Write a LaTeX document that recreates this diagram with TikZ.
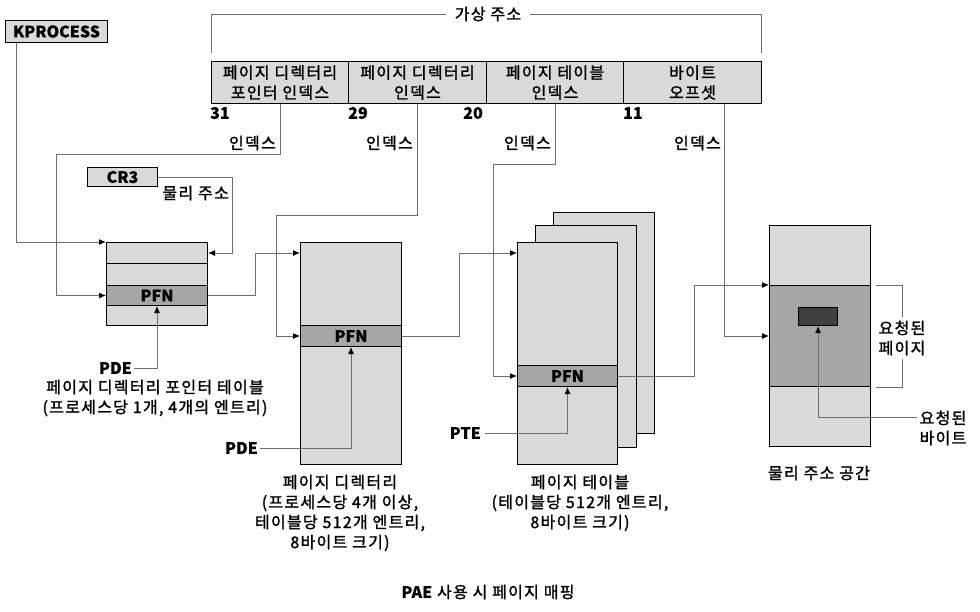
\documentclass[tikz,border=0pt]{standalone}
\usepackage{fontspec}
\setmainfont{Noto Sans CJK KR}[LetterSpace=8,FakeBold=1.5,BoldFeatures={LetterSpace=0,FakeBold=0.01}]
\usepackage{tikz}
\usetikzlibrary{arrows.meta,calc}

\definecolor{cellgray}{HTML}{D9D9D9}
\definecolor{pfngray}{HTML}{A6A6A6}
\definecolor{bytegray}{HTML}{404040}
\definecolor{linegray}{HTML}{6E6E6E}

\newcommand\dfont{\fontsize{16}{20}\selectfont}

\tikzset{
  cell/.style={draw, fill=cellgray, line width=1pt, inner sep=0pt, anchor=north west},
  pfncell/.style={cell, fill=pfngray, font=\dfont\bfseries},
  conn/.style={draw=linegray, line width=1pt, -{Latex[length=7pt,width=6pt,color=black]}},
  lead/.style={draw=linegray, line width=1pt},
  lbl/.style={inner sep=0pt, align=center},
  num/.style={inner sep=0pt, font=\dfont\bfseries}
}

\begin{document}
\begin{tikzpicture}[x=1pt,y=-1pt,font=\dfont]
\useasboundingbox (0,0) rectangle (980,611);

% Virtual address
\node[cell, minimum width=137, minimum height=42, align=center] (va1) at (211,61) {페이지 디렉터리\\포인터 인덱스};
\node[cell, minimum width=138, minimum height=42, align=center] (va2) at (348,61) {페이지 디렉터리\\인덱스};
\node[cell, minimum width=137, minimum height=42, align=center] (va3) at (486,61) {페이지 테이블\\인덱스};
\node[cell, minimum width=138, minimum height=42, align=center] (va4) at (623,61) {바이트\\오프셋};
\node[lbl, inner xsep=9pt] (vatitle) at (488,14) {가상 주소};
\draw[lead] (211,53) -- (211,14) -- (vatitle.west);
\draw[lead] (vatitle.east) -- (761,14) -- (761,53);

% Bit numbers
\node[num, anchor=west] (b31) at (210,113) {31};
\node[num, anchor=west] (b29) at (348,113) {29};
\node[num, anchor=east] (b20) at (483,113) {20};
\node[num, anchor=west] (b11) at (623,113) {11};

% KPROCESS and CR3
\node[cell, minimum width=102, minimum height=22, font=\dfont\bfseries] (kproc) at (5,20) {KPROCESS};
\node[cell, minimum width=70, minimum height=19, font=\dfont\bfseries] (cr3) at (87,167) {CR3};

% Page directory pointer table
\node[cell, minimum width=101, minimum height=21] (pdptA) at (106,242) {};
\node[cell, minimum width=101, minimum height=22] (pdptB) at (106,263) {};
\node[pfncell, minimum width=101, minimum height=20] (pdptpfn) at (106,285) {PFN};
\node[cell, minimum width=101, minimum height=20] (pdptD) at (106,305) {};
\node[num, anchor=east] (pde1) at (132,368) {PDE};
\node[lbl] (pdptcap) at (155,398) {페이지 디렉터리 포인터 테이블\\(프로세스당 1개, 4개의 엔트리)};

% Page directory
\node[cell, minimum width=101, minimum height=83] (pdA) at (300,242) {};
\node[pfncell, minimum width=101, minimum height=21] (pdpfn) at (300,325) {PFN};
\node[cell, minimum width=101, minimum height=118] (pdC) at (300,346) {};
\node[num, anchor=east] (pde2) at (258,448) {PDE};
\node[lbl] (pdcap) at (340,513) {페이지 디렉터리\\(프로세스당 4개 이상,\\테이블당 512개 엔트리,\\8바이트 크기)};

% Page tables
\node[cell, minimum width=101, minimum height=221] (ptback2) at (553,212) {};
\node[cell, minimum width=101, minimum height=222] (ptback1) at (535,225) {};
\node[cell, minimum width=100, minimum height=123] (ptA) at (517,242) {};
\node[pfncell, minimum width=100, minimum height=21] (ptpfn) at (517,365) {PFN};
\node[cell, minimum width=100, minimum height=78] (ptC) at (517,386) {};
\node[num, anchor=east] (pte) at (481,433) {PTE};
\node[lbl] (ptcap) at (580,503) {페이지 테이블\\(테이블당 512개 엔트리,\\8바이트 크기)};

% Physical address space
\node[cell, minimum width=101, minimum height=60] (physA) at (769,225) {};
\node[cell, fill=pfngray, minimum width=101, minimum height=101] (physpage) at (769,285) {};
\node[cell, minimum width=101, minimum height=60] (physC) at (769,386) {};
\node[cell, fill=bytegray, minimum width=39, minimum height=18] (byte) at (798,307) {};
\node[lbl] (pagelbl) at (902,338) {요청된\\페이지};
\node[lbl] (bytelbl) at (943,428) {요청된\\바이트};
\node[lbl] (physcap) at (819,473) {물리 주소 공간};

% Index labels
\node[lbl, anchor=east] (idx1) at (276,143) {인덱스};
\node[lbl, anchor=east] (idx2) at (413,143) {인덱스};
\node[lbl, anchor=east] (idx3) at (551,143) {인덱스};
\node[lbl, anchor=east] (idx4) at (721,143) {인덱스};
\node[lbl, anchor=east] (cr3lbl) at (229,193) {물리 주소};

% Connectors
\draw[conn] ([xshift=11pt]kproc.south west) |- (pdptA.north west);
\draw[conn] (cr3.east) -| (232,253) -- (pdptA.east |- 0,253);
\draw[conn] (va1.south) -- ++(0,50) -- ++(-224,0) |- (pdptpfn.west);
\draw[conn] (va2.south) -- ++(0,111) -- ++(-141,0) |- (pdpfn.west);
\draw[conn] (va3.south) -- ++(0,60) -- ++(-62,0) |- (ptpfn.west);
\draw[conn] ([xshift=32pt]va4.south) |- ([yshift=-51pt]physpage.north west);
\draw[conn] (pdptpfn.east) -- ++(47,0) |- ([yshift=-11pt]pdA.north west);
\draw[conn] (pdpfn.east) -- ++(57,0) |- ([yshift=-11pt]ptA.north west);
\draw[conn] (ptpfn.east) -- ++(76,0) |- (physpage.north west);
\draw[conn] ([xshift=2pt]pde1.east) -| (pdptpfn.south);
\draw[conn] ([xshift=2pt]pde2.east) -| (pdpfn.south);
\draw[conn] ([xshift=4pt]pte.east) -| (ptpfn.south);
\draw[conn] (917,417) -| (byte.south);
\draw[lead] ([xshift=5pt]physpage.north east) -| ([yshift=4pt]pagelbl.north);
\draw[lead] ([xshift=5pt]physpage.south east) -| ([yshift=-4pt]pagelbl.south);

% Title
\node[lbl] (title) at (488,592) {\textbf{PAE} 사용 시 페이지 매핑};
\end{tikzpicture}
\end{document}
